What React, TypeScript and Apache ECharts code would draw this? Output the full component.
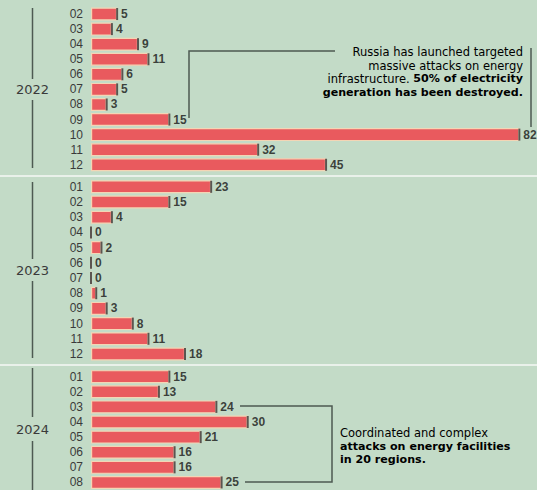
import React, { useEffect, useRef } from "react";
import * as echarts from "echarts";

const years = ["2022", "2023", "2024"];
const months2022 = ["02", "03", "04", "05", "06", "07", "08", "09", "10", "11", "12"];
const values2022 = [5, 4, 9, 11, 6, 5, 3, 15, 82, 32, 45];
const months2023 = ["01", "02", "03", "04", "05", "06", "07", "08", "09", "10", "11", "12"];
const values2023 = [23, 15, 4, 0, 2, 0, 0, 1, 3, 8, 11, 18];
const months2024 = ["01", "02", "03", "04", "05", "06", "07", "08"];
const values2024 = [15, 13, 24, 30, 21, 16, 16, 25];

const note1Lines = [
  "{n|Russia has launched targeted}",
  "{n|massive attacks on energy}",
  "{n|infrastructure. }{b|50% of electricity}",
  "{b|generation has been destroyed.}",
];
const note2Lines = [
  "{n|Coordinated and complex}",
  "{b|attacks on energy facilities}",
  "{b|in 20 regions.}",
];

const AXFONT = "Liberation Sans";
const LINE = "#4d5a52";

export default function App() {
  const ref = useRef<HTMLDivElement>(null);
  useEffect(() => {
    document.body.style.margin = "0";
    const chart = echarts.init(ref.current!, undefined, { renderer: "svg" });
    const groups = [
      { months: months2022, values: values2022, top: 6.5, height: 165.8 },
      { months: months2023, values: values2023, top: 179.2, height: 182.4 },
      { months: months2024, values: values2024, top: 369.1, height: 121.1 },
    ];
    const grid: any[] = [];
    const xAxis: any[] = [];
    const yAxis: any[] = [];
    const series: any[] = [];
    groups.forEach((g, i) => {
      grid.push({ left: 91, right: 2, top: g.top, height: g.height });
      xAxis.push({ type: "value", gridIndex: i, min: 0, max: 85, show: false });
      yAxis.push({
        type: "category",
        gridIndex: i,
        data: g.months,
        inverse: true,
        axisLine: { show: false },
        axisTick: { show: false },
        splitLine: { show: false },
        axisLabel: { interval: 0, color: "#3a3a3a", fontSize: 12, fontFamily: AXFONT, margin: 8, lineHeight: 13 },
      });
      series.push({
        type: "bar",
        xAxisIndex: i,
        yAxisIndex: i,
        data: g.values,
        barWidth: 13,
        itemStyle: { color: "#e95a5e", borderColor: "#f4d5b5", borderWidth: 1.2 },
      });
      series.push({
        type: "scatter",
        xAxisIndex: i,
        yAxisIndex: i,
        data: g.values.map((v, k) => [v, g.months[k]]),
        symbol: "rect",
        symbolSize: [2, 12],
        itemStyle: { color: "#3b3535" },
        label: {
          show: true,
          position: "right",
          distance: 3,
          formatter: (p: any) => String(p.value[0]),
          color: "#151515",
          fontWeight: "bold",
          fontSize: 12,
          fontFamily: AXFONT,
          lineHeight: 13,
        },
      });
    });

    const yearPos = [
      { y: 89, l1: [8, 79], l2: [100, 168] },
      { y: 270, l1: [182, 259], l2: [281, 358] },
      { y: 429, l1: [368, 417], l2: [441, 490] },
    ];
    const graphic: any[] = [];
    yearPos.forEach((p, i) => {
      graphic.push({
        type: "text",
        x: 32.5,
        y: p.y,
        style: { text: years[i], fill: "#3a3a3a", font: "13px DejaVu Sans", align: "center", verticalAlign: "middle" },
      });
      graphic.push({ type: "line", shape: { x1: 32.5, y1: p.l1[0], x2: 32.5, y2: p.l1[1] }, style: { stroke: LINE, lineWidth: 1.5 } });
      graphic.push({ type: "line", shape: { x1: 32.5, y1: p.l2[0], x2: 32.5, y2: p.l2[1] }, style: { stroke: LINE, lineWidth: 1.5 } });
    });
    [176, 365].forEach((y) =>
      graphic.push({ type: "line", shape: { x1: 0, y1: y, x2: 537, y2: y }, style: { stroke: "#e9f1ea", lineWidth: 2 } })
    );
    graphic.push({
      type: "polyline",
      shape: { points: [[189, 118], [189, 51], [335, 51]] },
      style: { stroke: LINE, lineWidth: 1.5, fill: null },
    });
    graphic.push({ type: "line", shape: { x1: 531, y1: 48, x2: 531, y2: 127 }, style: { stroke: LINE, lineWidth: 1.5 } });
    graphic.push({
      type: "polyline",
      shape: { points: [[240, 406], [332, 406], [332, 482], [245, 482]] },
      style: { stroke: LINE, lineWidth: 1.5, fill: null },
    });
    const rich = {
      n: { fontFamily: "DejaVu Sans", fontSize: 11.5, color: "#4a4a4a", lineHeight: 13 },
      b: { fontFamily: "DejaVu Sans", fontSize: 11.1, color: "#141414", fontWeight: "bold", lineHeight: 13 },
    };
    note1Lines.forEach((t, k) => {
      graphic.push({
        type: "text",
        x: 523,
        y: 52.1 + k * 13.4,
        style: { text: t, rich, align: "right", verticalAlign: "middle" },
      });
    });
    note2Lines.forEach((t, k) => {
      graphic.push({
        type: "text",
        x: 340,
        y: 432.6 + k * 13.4,
        style: { text: t, rich, align: "left", verticalAlign: "middle" },
      });
    });

    chart.setOption({
      animation: false,
      backgroundColor: "#c3dbc7",
      grid,
      xAxis,
      yAxis,
      series,
      graphic,
    });
    return () => chart.dispose();
  }, []);
  return <div ref={ref} style={{ width: 537, height: 490 }} />;
}
